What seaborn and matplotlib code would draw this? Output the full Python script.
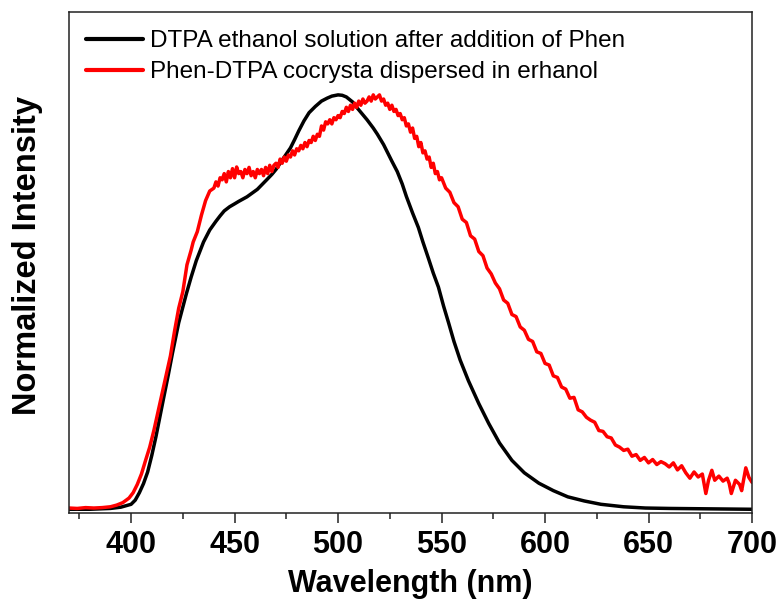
import numpy as np
import pandas as pd
import matplotlib
matplotlib.use("Agg")
import matplotlib.pyplot as plt
import seaborn as sns
from matplotlib.ticker import MultipleLocator

# ---- data ----
black_nm = [370, 380, 390, 395, 400, 402, 404, 406, 408, 410, 412, 415.5, 418, 420, 423, 426.7,
            429, 431.5, 435, 438, 441, 443, 445, 447.6, 450, 452, 456, 461, 465.5, 468, 470,
            472, 474, 477, 479, 481, 483.5, 486, 489, 492, 494.7, 497, 500, 502, 504, 507, 509,
            512, 514, 517, 519, 522, 524, 526, 528.6, 531, 533, 536, 538.8, 541, 543.7, 546,
            548.5, 551, 553.4, 556, 559, 563, 568, 572.8, 578, 584, 590, 597, 604, 611, 619,
            627, 638, 648.5, 660, 680, 700]
black_int = [0.0, 0.0, 0.002, 0.005, 0.012, 0.022, 0.04, 0.062, 0.09, 0.13, 0.175, 0.263, 0.325,
             0.377, 0.45, 0.52, 0.56, 0.60, 0.645, 0.674, 0.695, 0.708, 0.72, 0.73, 0.737, 0.743,
             0.754, 0.772, 0.795, 0.808, 0.82, 0.835, 0.85, 0.872, 0.892, 0.913, 0.937, 0.957, 0.972,
             0.985, 0.992, 0.997, 1.0, 0.999, 0.995, 0.983, 0.97, 0.952, 0.94, 0.92, 0.905, 0.88,
             0.86, 0.84, 0.815, 0.785, 0.755, 0.715, 0.68, 0.645, 0.605, 0.57, 0.536, 0.49, 0.45,
             0.405, 0.36, 0.31, 0.255, 0.207, 0.16, 0.118, 0.088, 0.063, 0.045, 0.03, 0.02, 0.012,
             0.006, 0.003, 0.002, 0.001, 0.0]

# red spectrum as (wavelength, intensity) pairs
red_points = [
    (370, 0.003), (374, 0.002), (378, 0.004), (382, 0.003), (386, 0.004), (390, 0.006),
    (393, 0.01), (396, 0.016), (399, 0.027), (401, 0.04), (403, 0.06), (405, 0.085),
    (407, 0.118), (409, 0.15), (411, 0.19), (413, 0.235), (415, 0.28), (417, 0.325),
    (419, 0.37), (421, 0.43), (423, 0.485), (425, 0.525), (427, 0.59), (429, 0.625),
    (430, 0.645), (432, 0.67), (434, 0.71), (436, 0.745), (438, 0.768), (440, 0.775),
    (441, 0.79), (442, 0.78), (443, 0.80), (444, 0.795), (445, 0.81), (446, 0.79), (447, 0.815),
    (448, 0.80), (449, 0.822), (450, 0.80), (451, 0.826), (452, 0.81), (453, 0.815), (454, 0.80),
    (455, 0.82), (456, 0.81), (457, 0.825), (458, 0.805), (459, 0.815), (460, 0.80), (461, 0.82),
    (462, 0.81), (463, 0.82), (464, 0.805), (465, 0.825), (466, 0.81), (467, 0.83), (468, 0.815),
    (469, 0.83), (470, 0.835), (471, 0.825), (472, 0.845), (473, 0.835), (474, 0.85), (475, 0.84),
    (476, 0.855), (477, 0.85), (478, 0.865), (479, 0.855), (480, 0.87), (481, 0.865), (482, 0.878),
    (483, 0.87), (484, 0.885), (485, 0.875), (486, 0.89), (487, 0.885), (488, 0.90), (489, 0.89),
    (490, 0.905), (491, 0.90), (492, 0.925), (493, 0.915), (494, 0.935), (495, 0.93), (496, 0.94),
    (497, 0.93), (498, 0.945), (499, 0.94), (500, 0.95), (501, 0.945), (502, 0.96), (503, 0.955),
    (504, 0.97), (505, 0.96), (506, 0.975), (507, 0.965), (508, 0.98), (509, 0.97), (510, 0.985),
    (511, 0.975), (512, 0.99), (513, 0.98), (514, 0.985), (515, 0.995), (516, 0.985), (517, 1.0),
    (518, 0.99), (519, 0.995), (520, 1.0), (521, 0.985), (522, 0.99), (523, 0.975), (524, 0.98),
    (525, 0.965), (526, 0.975), (527, 0.96), (528, 0.965), (529, 0.95), (530, 0.955), (531, 0.94),
    (532, 0.945), (533, 0.925), (534, 0.93), (535, 0.91), (536, 0.92), (537, 0.895), (538, 0.90),
    (539, 0.875), (540, 0.885), (541, 0.86), (542, 0.865), (543, 0.845), (544, 0.85), (545, 0.825),
    (546, 0.835), (547, 0.81), (548, 0.815), (549, 0.795), (550, 0.80), (552, 0.775), (554, 0.765),
    (556, 0.74), (558, 0.73), (560, 0.70), (562, 0.692), (564, 0.66), (566, 0.652), (568, 0.622),
    (570, 0.612), (572, 0.582), (574, 0.568), (576, 0.546), (578, 0.532), (580, 0.505),
    (582, 0.497), (584, 0.47), (586, 0.465), (588, 0.44), (590, 0.432), (592, 0.41), (594, 0.405),
    (596, 0.38), (598, 0.376), (600, 0.352), (602, 0.348), (604, 0.322), (606, 0.318),
    (608, 0.295), (610, 0.29), (612, 0.268), (614, 0.27), (616, 0.24), (618, 0.235), (620, 0.222),
    (622, 0.215), (624, 0.21), (626, 0.19), (628, 0.188), (630, 0.175), (632, 0.172), (634, 0.155),
    (636, 0.15), (638, 0.142), (640, 0.145), (642, 0.128), (644, 0.132), (646, 0.118),
    (648, 0.125), (650, 0.112), (652, 0.12), (654, 0.108), (656, 0.115), (658, 0.11), (660, 0.102),
    (662, 0.112), (664, 0.095), (666, 0.105), (668, 0.088), (670, 0.075), (672, 0.09), (674, 0.078),
    (676, 0.085), (677.7, 0.038), (679, 0.07), (680.6, 0.094), (682, 0.07), (684, 0.08),
    (686, 0.068), (688, 0.075), (689, 0.062), (690, 0.038), (692, 0.07), (694, 0.06), (695, 0.045),
    (697, 0.10), (698.5, 0.077), (700, 0.065),
]

labels = ["DTPA ethanol solution after addition of Phen",
          "Phen-DTPA cocrysta dispersed in erhanol"]
x_ticks = [400, 450, 500, 550, 600, 650, 700]

red_nm = [p[0] for p in red_points]
red_int = [p[1] for p in red_points]

df = pd.concat([
    pd.DataFrame({"nm": black_nm, "I": black_int, "s": labels[0]}),
    pd.DataFrame({"nm": red_nm, "I": red_int, "s": labels[1]}),
])

sns.set_style("white")
plt.rcParams["font.family"] = ["Liberation Sans", "DejaVu Sans"]
plt.rcParams["text.color"] = "black"
plt.rcParams["axes.labelcolor"] = "black"
plt.rcParams["xtick.color"] = "black"

fig = plt.figure(figsize=(7.8, 6.03), dpi=100)
ax = fig.add_axes([69/780, 1 - 513/603, (752-69)/780, (513-12)/603])

sns.lineplot(data=df, x="nm", y="I", hue="s", palette=["black", "#ff0000"],
             sort=False, estimator=None, linewidth=2.5, ax=ax)

ax.set_xlim(370, 700)
ax.set_ylim(-0.009, 1.2)
ax.set_xticks(x_ticks)
ax.set_xticklabels([str(t) for t in x_ticks], fontsize=22, fontweight="bold", color="black")
ax.xaxis.set_minor_locator(MultipleLocator(25))
ax.set_yticks([])
ax.tick_params(axis="x", which="major", direction="out", length=7, width=1.1, pad=5,
               bottom=True, top=False, color="#222222")
ax.tick_params(axis="x", which="minor", direction="out", length=4, width=1.1,
               bottom=True, top=False, color="#222222")
for sp in ax.spines.values():
    sp.set_color("#222222")
    sp.set_linewidth(1.1)

ax.set_xlabel("Wavelength (nm)", fontsize=22, fontweight="bold", labelpad=7, color="black")
ax.set_ylabel("Normalized Intensity", fontsize=23.5, fontweight="bold", color="black")
ax.yaxis.set_label_coords(-0.038, 0.513)

leg = ax.legend(loc="upper left", bbox_to_anchor=(0.025, 0.964), frameon=False,
                fontsize=17.5, handlelength=2.35, handletextpad=0.3, labelspacing=0.37,
                borderaxespad=0, borderpad=0)
for h in leg.get_lines():
    h.set_linewidth(3)
for t in leg.get_texts():
    t.set_color("black")

fig.savefig("out.png", dpi=100)
